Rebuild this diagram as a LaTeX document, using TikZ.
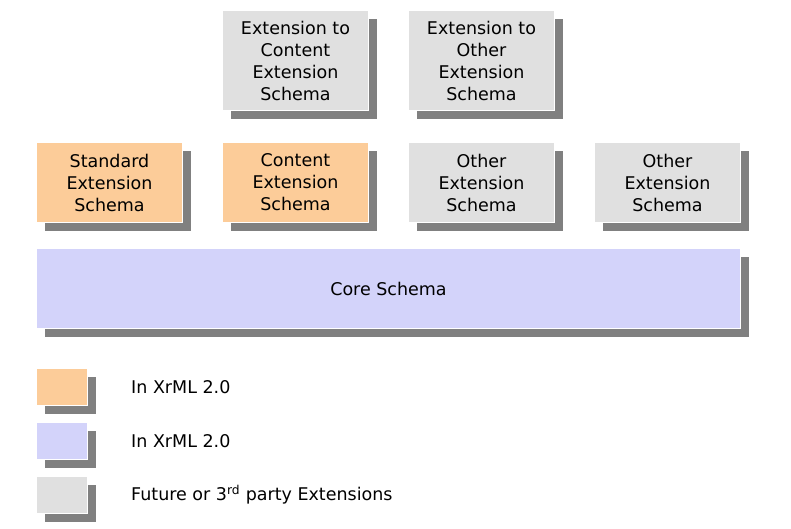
\documentclass[tikz,border=0pt]{standalone}
\usepackage{fontspec}
\setmainfont{DejaVu Sans}
\usetikzlibrary{shadows}
\definecolor{stdorange}{HTML}{FCCC99}
\definecolor{corelilac}{HTML}{D3D3FA}
\definecolor{futuregray}{HTML}{E0E0E0}
\definecolor{shadegray}{HTML}{808080}
\begin{document}
\begin{tikzpicture}[x=1pt,y=-1pt,
    schemabox/.style={draw=white,line width=1pt,anchor=north west,align=center,
      font=\fontsize{17.5}{22}\selectfont,inner sep=0pt,
      drop shadow={shadow xshift=8pt,shadow yshift=-8pt,fill=shadegray,opacity=1}},
    keytext/.style={anchor=west,font=\fontsize{17.5}{22}\selectfont,inner sep=0pt}]
    \useasboundingbox (0,0) rectangle (791,528);
    % top row
    \node [schemabox,fill=futuregray,minimum width=146,minimum height=100] (extcontent) at (222,10)
        {Extension to\\Content\\Extension\\Schema};
    \node [schemabox,fill=futuregray,minimum width=146,minimum height=100] (extother) at (408,10)
        {Extension to\\Other\\Extension\\Schema};
    % extension row
    \node [schemabox,fill=stdorange,minimum width=146,minimum height=80] (standard) at (36,142)
        {Standard\\Extension\\Schema};
    \node [schemabox,fill=stdorange,minimum width=146,minimum height=80] (content) at (222,142)
        {Content\\Extension\\Schema};
    \node [schemabox,fill=futuregray,minimum width=146,minimum height=80] (otherA) at (408,142)
        {Other\\Extension\\Schema};
    \node [schemabox,fill=futuregray,minimum width=146,minimum height=80] (otherB) at (594,142)
        {Other\\Extension\\Schema};
    % core
    \node [schemabox,fill=corelilac,minimum width=704,minimum height=80] (core) at (36,248)
        {Core Schema};
    % legend
    \foreach \col/\ypos/\txt/\nm in {stdorange/368/In XrML 2.0/keyA,
        corelilac/422/In XrML 2.0/keyB,
        futuregray/476/Future or 3\textsuperscript{rd} party Extensions/keyC} {
        \node [schemabox,fill=\col,minimum width=51,minimum height=37] (\nm) at (36,\ypos) {};
        \node [keytext] (\nm-txt) at (131,\ypos+19) {\txt};
      }
  \end{tikzpicture}
\end{document}
